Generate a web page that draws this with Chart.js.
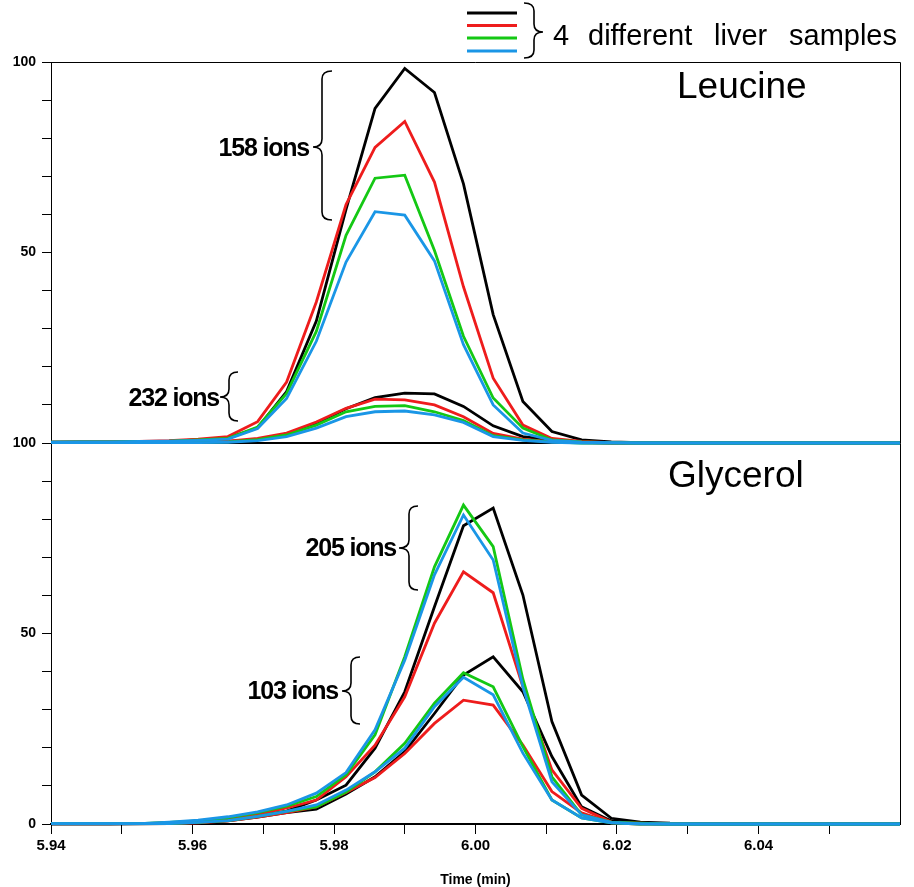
<!DOCTYPE html>
<html lang="en">
<head>
<meta charset="UTF-8">
<title>Leucine / Glycerol</title>
<style>
  html, body { margin: 0; padding: 0; background: #fff; }
  #wrap { position: relative; width: 914px; height: 887px; }
</style>
</head>
<body>
<div id="wrap"><canvas id="myChart"></canvas></div>

<script src="https://cdn.jsdelivr.net/npm/chart.js"></script>
<script>
// retention time (min), one scan every ~0.25 s
const times = [5.9400, 5.9442, 5.9483, 5.9525, 5.9567, 5.9608, 5.9650, 5.9692, 5.9733, 5.9775,
               5.9817, 5.9858, 5.9900, 5.9942, 5.9983, 6.0025, 6.0067, 6.0108, 6.0150, 6.0192,
               6.0233, 6.0275, 6.0317, 6.0358, 6.0400, 6.0442, 6.0483, 6.0525, 6.0567, 6.0608];

// Leucine, 158 ions (relative abundance, %)
const leu158Black = [0.2,0.3,0.3,0.4,0.5,0.8,1.2,4.0,13.5,32.0,61.3,87.8,98.3,92.0,68.0,33.7,10.9,3.0,0.8,0.3,0.1,0,0,0,0,0,0,0,0,0];
const leu158Red   = [0.2,0.3,0.3,0.4,0.6,1.0,1.7,5.6,16.0,37.0,62.6,77.6,84.4,68.5,41.0,17.0,4.7,1.2,0.4,0.1,0,0,0,0,0,0,0,0,0,0];
const leu158Green = [0.2,0.3,0.3,0.4,0.5,0.8,1.2,4.2,13.0,29.3,54.5,69.5,70.3,50.5,28.0,11.8,3.9,0.8,0.3,0.1,0,0,0,0,0,0,0,0,0,0];
const leu158Blue  = [0.2,0.3,0.3,0.4,0.5,0.7,1.0,3.8,11.7,26.7,47.5,60.7,59.8,47.8,25.8,10.0,2.6,0.7,0.2,0.1,0,0,0,0,0,0,0,0,0,0];

// Leucine, 232 ions
const leu232Black = [0.1,0.1,0.1,0.1,0.1,0.2,0.4,0.9,2.4,5.2,9.0,11.9,13.1,12.9,9.6,4.5,1.7,0.8,0.2,0,0,0,0,0,0,0,0,0,0,0];
const leu232Red   = [0.1,0.1,0.1,0.1,0.1,0.2,0.5,1.2,2.6,5.5,9.1,11.5,11.3,10.0,6.9,2.5,1.0,0.3,0.1,0,0,0,0,0,0,0,0,0,0,0];
const leu232Green = [0.1,0.1,0.1,0.1,0.1,0.2,0.3,0.9,2.1,4.7,8.2,9.6,9.8,8.2,5.9,1.9,0.8,0.3,0,0,0,0,0,0,0,0,0,0,0,0];
const leu232Blue  = [0.1,0.1,0.1,0.1,0.1,0.1,0.2,0.6,1.7,3.9,6.9,8.2,8.4,7.4,5.4,1.7,0.7,0.2,0,0,0,0,0,0,0,0,0,0,0,0];

// Glycerol, 205 ions
const gly205Black = [0,0,0,0.05,0.1,0.3,1.0,2.1,3.4,6.3,10.2,19.9,34.7,57.0,78.3,82.9,60.1,26.9,7.6,1.5,0.5,0.2,0.1,0,0,0,0,0,0,0];
const gly205Red   = [0.1,0.1,0.1,0.1,0.3,0.6,1.3,2.5,4.2,6.3,12.4,20.7,33.4,52.7,66.2,60.7,36.0,14.2,4.1,0.5,0.2,0,0,0,0,0,0,0,0,0];
const gly205Green = [0.1,0.1,0.1,0.1,0.4,0.8,1.7,3.0,4.7,7.2,12.9,23.4,43.9,67.5,83.7,72.8,38.0,12.4,2.4,0.5,0.2,0,0,0,0,0,0,0,0,0];
const gly205Blue  = [0.1,0.1,0.1,0.1,0.5,1.0,1.9,3.2,5.0,8.1,13.5,24.7,43.0,65.4,81.1,69.3,36.0,11.1,2.4,0.4,0.1,0,0,0,0,0,0,0,0,0];

// Glycerol, 103 ions
const gly103Black = [0.1,0.1,0.1,0.1,0.1,0.3,0.8,1.8,3.0,3.9,7.9,12.4,19.0,29.0,39.1,43.9,34.7,17.7,4.5,0.8,0.2,0,0,0,0,0,0,0,0,0];
const gly103Red   = [0.1,0.1,0.1,0.1,0.1,0.3,0.8,1.8,3.0,4.5,8.3,12.2,18.5,26.4,32.5,31.2,20.7,8.5,2.9,0.3,0,0,0,0,0,0,0,0,0,0];
const gly103Green = [0.1,0.1,0.1,0.1,0.1,0.4,0.9,2.0,3.3,4.5,8.4,13.7,21.2,31.7,39.7,36.0,20.3,6.3,1.6,0.3,0,0,0,0,0,0,0,0,0,0];
const gly103Blue  = [0.1,0.1,0.1,0.1,0.1,0.4,0.9,2.0,3.3,5.0,8.9,13.7,19.9,30.8,38.5,33.9,18.6,6.3,1.6,0.3,0,0,0,0,0,0,0,0,0,0];

const xTicksLabelled = [5.94, 5.96, 5.98, 6.00, 6.02, 6.04];

const BLACK = '#000000', RED = '#ee1c1c', GREEN = '#14c814', BLUE = '#1a96e6';
const FONT = "'Liberation Sans', Arial, sans-serif";

function pts(ys) {
  return ys.map((y, i) => ({x: times[i], y: y}));
}
// blue drawn on top, black at the bottom
function ds(ys, color, axis, order) {
  return {
    data: pts(ys), yAxisID: axis, borderColor: color, backgroundColor: color,
    borderWidth: 2.8, pointRadius: 0, tension: 0, fill: false, order: order,
    clip: {left: 2, top: 2, right: 0, bottom: 3}
  };
}

const datasets = [
  ds(leu158Black, BLACK, 'yTop', 3), ds(leu158Red, RED, 'yTop', 2), ds(leu158Green, GREEN, 'yTop', 1), ds(leu158Blue, BLUE, 'yTop', 0),
  ds(leu232Black, BLACK, 'yTop', 3), ds(leu232Red, RED, 'yTop', 2), ds(leu232Green, GREEN, 'yTop', 1), ds(leu232Blue, BLUE, 'yTop', 0),
  ds(gly205Black, BLACK, 'yBot', 3), ds(gly205Red, RED, 'yBot', 2), ds(gly205Green, GREEN, 'yBot', 1), ds(gly205Blue, BLUE, 'yBot', 0),
  ds(gly103Black, BLACK, 'yBot', 3), ds(gly103Red, RED, 'yBot', 2), ds(gly103Green, GREEN, 'yBot', 1), ds(gly103Blue, BLUE, 'yBot', 0)
];

// curly brace; tip points left when xTip < xSpine
function brace(ctx, xEnd, xSpine, xTip, yA, yB, yMid) {
  const r = 8;
  ctx.beginPath();
  ctx.moveTo(xEnd, yA);
  ctx.quadraticCurveTo(xSpine, yA, xSpine, yA + r);
  ctx.lineTo(xSpine, yMid - r);
  ctx.quadraticCurveTo(xSpine, yMid, xTip, yMid);
  ctx.quadraticCurveTo(xSpine, yMid, xSpine, yMid + r);
  ctx.lineTo(xSpine, yB - r);
  ctx.quadraticCurveTo(xSpine, yB, xEnd, yB);
  ctx.stroke();
}

const framePlugin = {
  id: 'frame',
  beforeDatasetsDraw(chart) {
    const {ctx, chartArea: a} = chart;
    const mid = chart.scales.yTop.bottom;
    ctx.save();
    ctx.strokeStyle = '#000';
    ctx.lineWidth = 1;
    ctx.beginPath();
    ctx.moveTo(a.left, a.top + 0.5);
    ctx.lineTo(a.right + 0.5, a.top + 0.5);
    ctx.lineTo(a.right + 0.5, a.bottom);
    ctx.stroke();
    ctx.lineWidth = 2;
    ctx.beginPath();
    ctx.moveTo(a.left, mid);
    ctx.lineTo(a.right, mid);
    ctx.stroke();
    ctx.restore();
  },
  afterDraw(chart) {
    const ctx = chart.ctx;
    ctx.save();
    ctx.fillStyle = '#000';
    ctx.strokeStyle = '#000';

    // panel names
    ctx.font = '37px ' + FONT;
    ctx.textAlign = 'left';
    ctx.textBaseline = 'alphabetic';
    ctx.fillText('Leucine', 677, 98);
    ctx.fillText('Glycerol', 668, 487);

    // ion counts
    ctx.font = 'bold 25px ' + FONT;
    ctx.letterSpacing = '-1.2px';
    ctx.textAlign = 'right';
    ctx.fillText('158 ions', 309, 156);
    ctx.fillText('232 ions', 219, 406);
    ctx.fillText('205 ions', 396, 556);
    ctx.fillText('103 ions', 338, 699);
    ctx.letterSpacing = '0px';

    ctx.lineWidth = 1.6;
    brace(ctx, 332, 322, 313, 71, 220, 147);
    brace(ctx, 238, 229, 220, 372, 421, 397);
    brace(ctx, 418, 409, 399, 506, 590, 548);
    brace(ctx, 360, 351, 342, 657, 724, 691);

    // legend
    const legendColors = [BLACK, RED, GREEN, BLUE];
    const legendY = [13, 25.5, 38, 51];
    ctx.lineWidth = 3;
    legendColors.forEach((c, i) => {
      ctx.strokeStyle = c;
      ctx.beginPath();
      ctx.moveTo(467, legendY[i]);
      ctx.lineTo(517, legendY[i]);
      ctx.stroke();
    });
    ctx.strokeStyle = '#000';
    ctx.lineWidth = 1.6;
    brace(ctx, 524, 534, 543, 3, 58, 32);

    ctx.font = '29px ' + FONT;
    ctx.textAlign = 'left';
    ctx.fillText('4', 553, 45);
    ctx.fillText('different', 588, 45);
    ctx.fillText('liver', 714, 45);
    ctx.fillText('samples', 789, 45);
    ctx.restore();
  }
};

function yAxis(hideZero) {
  return {
    type: 'linear',
    position: 'left',
    stack: 'panels',
    stackWeight: 1,
    min: 0,
    max: 100,
    border: {display: true, color: '#000', width: 1},
    grid: {drawOnChartArea: false, drawTicks: true, tickLength: 9, color: '#000', tickColor: '#000'},
    ticks: {
      stepSize: 10,
      autoSkip: false,
      padding: 6,
      color: '#000',
      font: {family: FONT, size: 14, weight: 'bold'},
      callback: v => (v % 50 === 0 && !(hideZero && v === 0)) ? String(v) : ''
    },
    afterFit: s => { s.width = 51; }
  };
}

const ctx = document.getElementById('myChart');

new Chart(ctx, {
  type: 'line',
  data: {datasets: datasets},
  options: {
    responsive: true,
    maintainAspectRatio: false,
    animation: false,
    layout: {padding: {left: 0, top: 62, right: 14, bottom: 0}},
    plugins: {legend: {display: false}, tooltip: {enabled: false}},
    scales: {
      x: {
        type: 'linear',
        min: 5.94,
        max: 6.06,
        border: {display: true, color: '#000', width: 2},
        grid: {drawOnChartArea: false, drawTicks: true, tickLength: 10, color: '#000', tickColor: '#000'},
        ticks: {
          stepSize: 0.01,
          autoSkip: false,
          maxRotation: 0,
          padding: 3,
          color: '#000',
          font: {family: FONT, size: 15, weight: 'bold'},
          callback: v => {
            const hit = xTicksLabelled.find(t => Math.abs(t - v) < 1e-6);
            return hit !== undefined ? hit.toFixed(2) : '';
          }
        },
        afterBuildTicks: s => { s.ticks = s.ticks.filter(t => t.value < 6.055); },
        title: {
          display: true,
          text: 'Time (min)',
          color: '#000',
          padding: {top: 0, bottom: 0},
          font: {family: FONT, size: 14, weight: 'bold', lineHeight: 1}
        },
        afterFit: s => { s.height = 63; }
      },
      yBot: yAxis(false),
      yTop: yAxis(true)
    }
  },
  plugins: [framePlugin]
});
</script>
</body>
</html>
